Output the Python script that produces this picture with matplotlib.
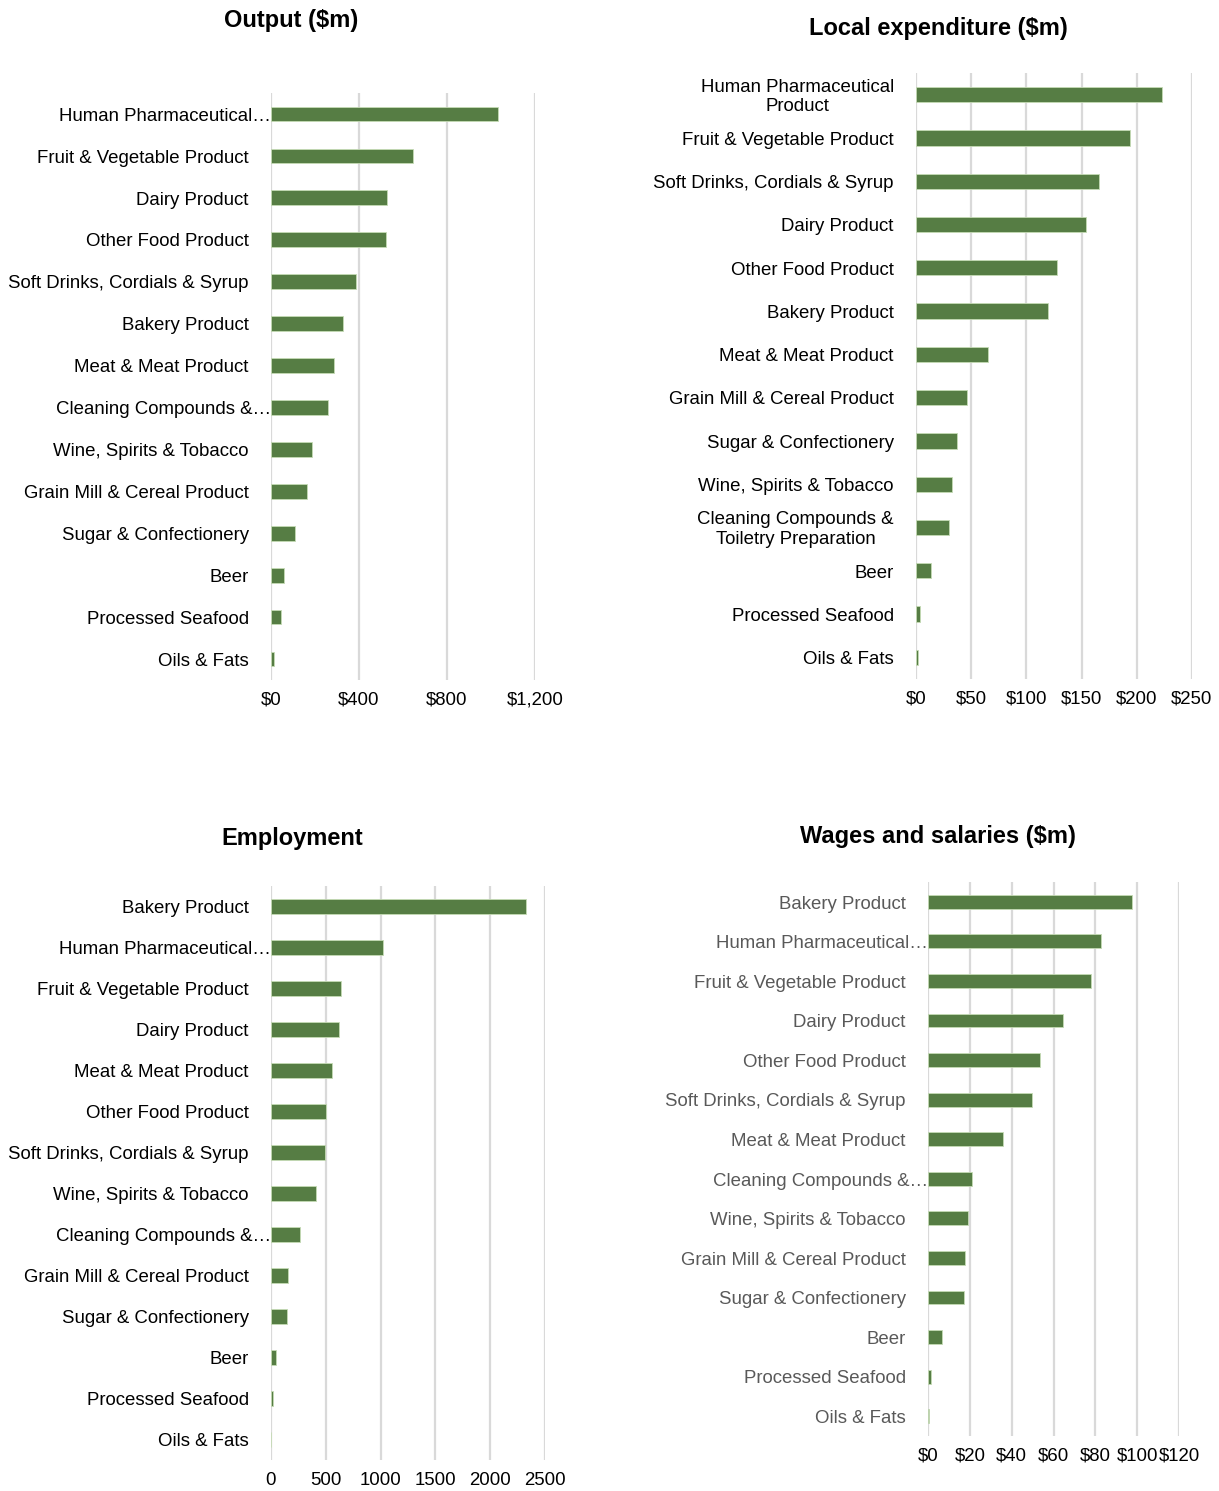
"""Food manufacturing industries - four bar panels
"""
import numpy as np
import matplotlib
matplotlib.use("Agg")
import matplotlib.pyplot as plt
from matplotlib.ticker import FuncFormatter
from matplotlib.transforms import ScaledTranslation

plt.rcParams['font.family'] = ['Liberation Sans', 'DejaVu Sans']

# data, top to bottom
output_cats = ["Human Pharmaceutical\u2026", "Fruit & Vegetable Product", "Dairy Product",
               "Other Food Product", "Soft Drinks, Cordials & Syrup", "Bakery Product",
               "Meat & Meat Product", "Cleaning Compounds &\u2026", "Wine, Spirits & Tobacco",
               "Grain Mill & Cereal Product", "Sugar & Confectionery", "Beer",
               "Processed Seafood", "Oils & Fats"]
output_vals = [1033, 644, 527, 523, 386, 327, 286, 261, 185, 164, 111, 61, 45, 12]

local_cats = ["Human Pharmaceutical\nProduct", "Fruit & Vegetable Product",
              "Soft Drinks, Cordials & Syrup", "Dairy Product", "Other Food Product",
              "Bakery Product", "Meat & Meat Product", "Grain Mill & Cereal Product",
              "Sugar & Confectionery", "Wine, Spirits & Tobacco",
              "Cleaning Compounds &\nToiletry Preparation", "Beer", "Processed Seafood",
              "Oils & Fats"]
local_vals = [222.5, 194, 166, 154, 128, 120, 65, 46, 37.5, 33, 29.6, 14, 3.6, 1.8]

emp_cats = ["Bakery Product", "Human Pharmaceutical\u2026", "Fruit & Vegetable Product",
            "Dairy Product", "Meat & Meat Product", "Other Food Product",
            "Soft Drinks, Cordials & Syrup", "Wine, Spirits & Tobacco",
            "Cleaning Compounds &\u2026", "Grain Mill & Cereal Product",
            "Sugar & Confectionery", "Beer", "Processed Seafood", "Oils & Fats"]
emp_vals = [2327, 1022, 643, 622, 555, 500, 497, 407, 264, 152, 149, 49, 21, 3]

wage_cats = ["Bakery Product", "Human Pharmaceutical\u2026", "Fruit & Vegetable Product",
             "Dairy Product", "Other Food Product", "Soft Drinks, Cordials & Syrup",
             "Meat & Meat Product", "Cleaning Compounds &\u2026", "Wine, Spirits & Tobacco",
             "Grain Mill & Cereal Product", "Sugar & Confectionery", "Beer",
             "Processed Seafood", "Oils & Fats"]
wage_vals = [97.7, 82.7, 77.7, 64.6, 53.7, 49.6, 36.0, 20.8, 19.3, 17.7, 17.3, 6.7, 1.4, 0.6]

W, H = 1219, 1491
BAR = "#567d44"
GRID = "#d9d9d9"
FS = 13.4

fig = plt.figure(figsize=(W / 100, H / 100), dpi=100)


def px_axes(left, top, right, bottom):
    return fig.add_axes([left / W, 1 - bottom / H, (right - left) / W, (bottom - top) / H])


def panel(box, title, title_xy, cats, vals, xmax, step, fmt, label_color):
    ax = px_axes(*box)
    y = np.arange(len(cats))
    ax.barh(y, vals, height=0.35, color=BAR, edgecolor="#c5dbb5", linewidth=0.6, zorder=3)
    ax.set_ylim(len(cats) - 0.5, -0.5)
    ax.set_xlim(0, xmax)
    ax.set_xticks(np.arange(0, xmax + step / 2, step))
    ax.xaxis.set_major_formatter(FuncFormatter(fmt))
    ax.grid(axis="x", color=GRID, linewidth=1.6, zorder=0)
    ax.set_axisbelow(True)
    for s in ax.spines.values():
        s.set_visible(False)
    ax.tick_params(axis="x", length=0, pad=8.5, labelsize=FS)
    ax.set_yticks([])
    # category labels, truncated ones run up to the axis like Excel
    for yi, lab in zip(y, cats):
        gap = 0.02 if lab.endswith("\u2026") else 16
        tr = ax.get_yaxis_transform() + ScaledTranslation(-gap / 72, -1.6 / 72,
                                                          fig.dpi_scale_trans)
        ax.text(0, yi, lab, transform=tr, ha="right", va="center", multialignment="center",
                fontsize=FS, color=label_color, linespacing=1.2)
    fig.text(title_xy[0] / W, 1 - title_xy[1] / H, title, ha="center", va="center",
             fontsize=17, fontweight="bold")
    return ax


dollar = lambda v, p: "${:,.0f}".format(v)
plain = lambda v, p: "{:.0f}".format(v)

panel((271, 93, 535, 680), "Output ($m)", (291, 20), output_cats, output_vals,
      1200, 400, dollar, "black")
panel((916, 73, 1192, 679), "Local expenditure ($m)", (938, 28), local_cats, local_vals,
      250, 50, dollar, "black")
panel((271, 886, 545, 1460), "Employment", (292, 838), emp_cats, emp_vals,
      2500, 500, plain, "black")
panel((928, 882, 1179, 1436), "Wages and salaries ($m)", (938, 836), wage_cats, wage_vals,
      120, 20, dollar, "#595959")

fig.savefig("out.png", dpi=100)
